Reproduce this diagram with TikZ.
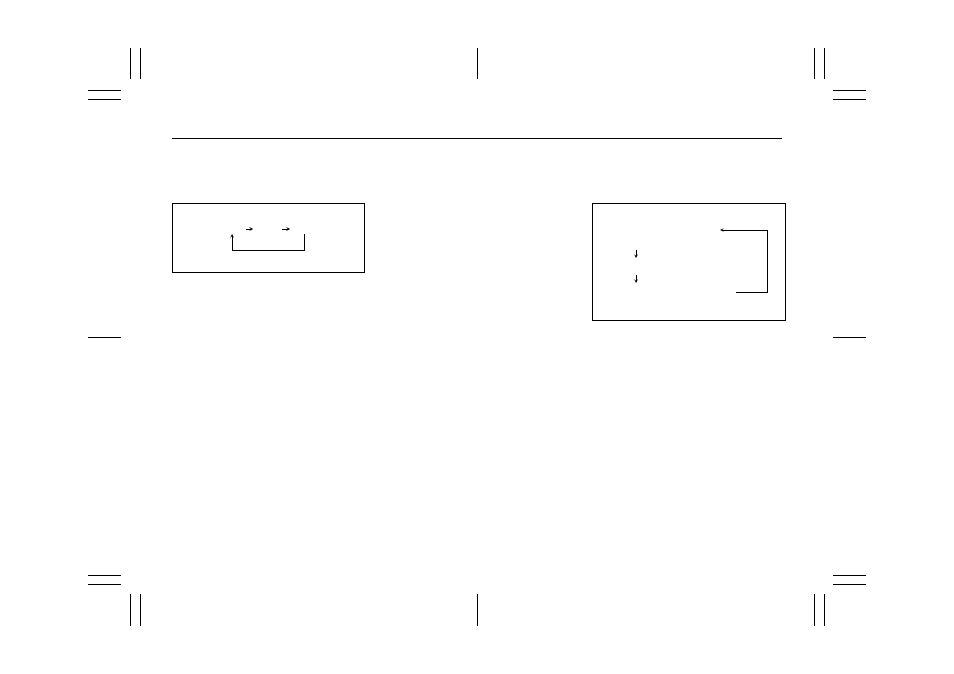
\documentclass[tikz,border=0pt]{standalone}
\usepackage{tikz}
\usetikzlibrary{arrows,positioning}
\begin{document}
\begin{tikzpicture}[x=1pt,y=-1pt,line width=0.8pt,
                    frame box/.style={rectangle,draw,inner sep=0pt,line width=0.8pt},
                    crop mark/.style={line width=0.8pt},
                    flow/.style={->,>=stealth,line width=0.6pt}]
        \useasboundingbox (0,0) rectangle (954,674);

        % crop marks, top
        \draw[crop mark] (130,48)--(130,79);
        \draw[crop mark] (140,48)--(140,79);
        \draw[crop mark] (88,90)--(121,90);
        \draw[crop mark] (88,99)--(121,99);
        \draw[crop mark] (477,48)--(477,79);
        \draw[crop mark] (814,48)--(814,79);
        \draw[crop mark] (824,48)--(824,79);
        \draw[crop mark] (833,90)--(866,90);
        \draw[crop mark] (833,99)--(866,99);
        % crop marks, middle
        \draw[crop mark] (88,337)--(121,337);
        \draw[crop mark] (833,337)--(866,337);
        % crop marks, bottom
        \draw[crop mark] (88,575)--(121,575);
        \draw[crop mark] (88,584)--(121,584);
        \draw[crop mark] (130,594)--(130,626);
        \draw[crop mark] (140,594)--(140,626);
        \draw[crop mark] (477,594)--(477,626);
        \draw[crop mark] (833,575)--(866,575);
        \draw[crop mark] (833,584)--(866,584);
        \draw[crop mark] (814,594)--(814,626);
        \draw[crop mark] (824,594)--(824,626);

        % head rule
        \coordinate (rule west) at (172,138);
        \coordinate (rule east) at (782,138);
        \draw[] (rule west)--(rule east);

        % left box
        \node[frame box,minimum width=192pt,minimum height=69pt] (box1) at (268,237.5) {};
        \coordinate (s1) at (246,229);
        \coordinate (t1) at (253,229);
        \coordinate (s2) at (282,229);
        \coordinate (t2) at (290,229);
        \coordinate (back1) at (304,234);
        \coordinate (back2) at (304,250);
        \coordinate (back3) at (232,250);
        \coordinate (back4) at (232,234);
        \draw[flow] (s1)--(t1);
        \draw[flow] (s2)--(t2);
        \draw[flow] (back1)--(back2)--(back3)--(back4);

        % right box
        \node[frame box,minimum width=193pt,minimum height=117pt] (box2) at (688.5,261.5) {};
        \coordinate (u1) at (636,250);
        \coordinate (v1) at (636,258);
        \coordinate (u2) at (636,275);
        \coordinate (v2) at (636,283);
        \coordinate (loop1) at (736,292);
        \coordinate (loop2) at (767,292);
        \coordinate (loop3) at (767,230);
        \coordinate (loop4) at (720,230);
        \draw[flow] (u1)--(v1);
        \draw[flow] (u2)--(v2);
        \draw[flow] (loop1)--(loop2)--(loop3)--(loop4);
\end{tikzpicture}
\end{document}
